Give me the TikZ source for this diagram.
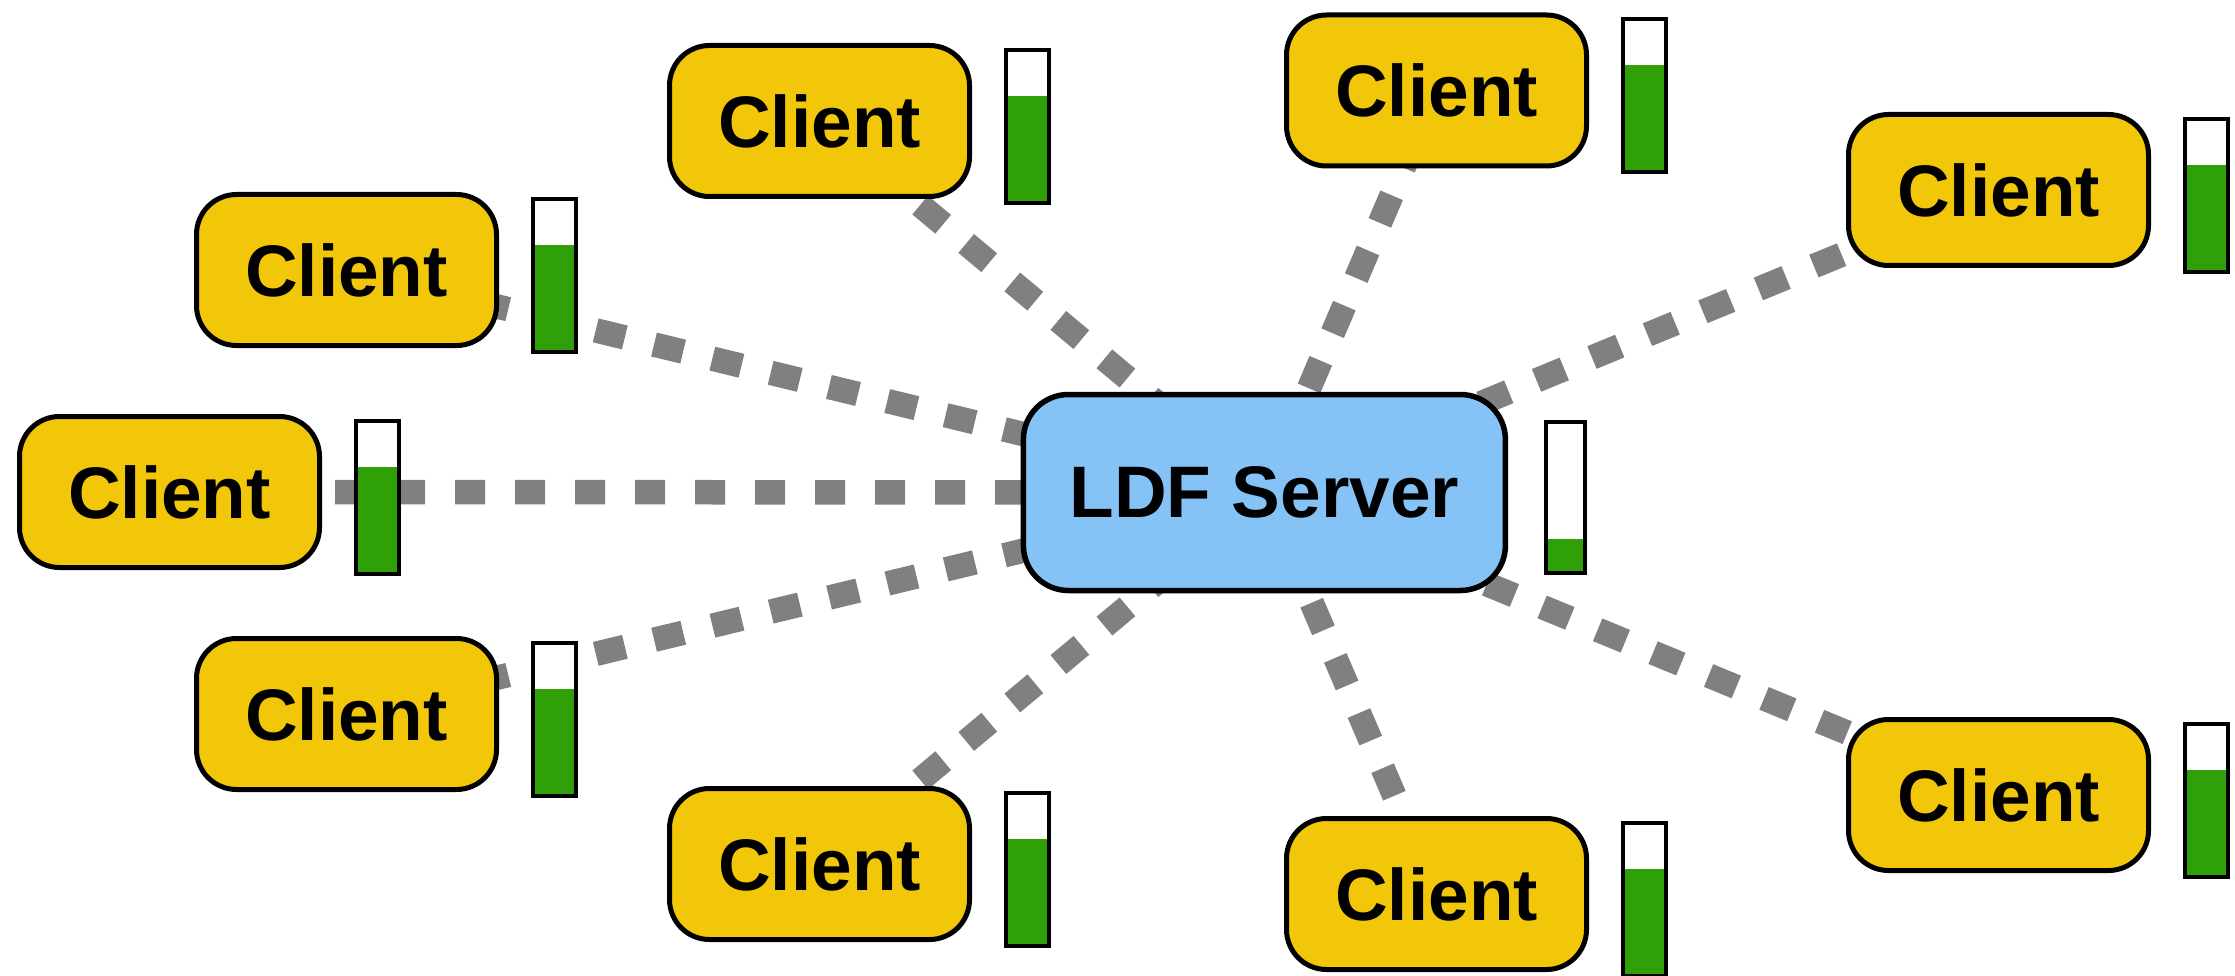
\documentclass[tikz,border=0pt]{standalone}
\usepackage{fontspec}
\setmainfont{Liberation Sans}
\usetikzlibrary{calc}

\pgfdeclarelayer{links}
\pgfsetlayers{links,main}

\definecolor{clientfill}{HTML}{F2C709}
\definecolor{serverfill}{HTML}{85C3F7}
\definecolor{linkgray}{HTML}{808080}
\definecolor{levelgreen}{HTML}{30A008}

\tikzset{
  labelfont/.style={font=\fontsize{73}{80}\selectfont\bfseries},
  client/.style={draw, line width=5pt, fill=clientfill, rounded corners=40pt,
    minimum width=300pt, minimum height=151pt, inner sep=0pt, labelfont},
  server/.style={draw, line width=5.5pt, fill=serverfill, rounded corners=45pt,
    minimum width=482pt, minimum height=196pt, inner sep=0pt, labelfont},
  % vertical gauge, filled green from the bottom up to the given fraction
  gauge/.style={draw, line width=4pt, fill=white, inner sep=0pt,
    minimum width=43pt, minimum height=153pt,
    path picture={\fill[levelgreen] (path picture bounding box.south west) rectangle
      ($(path picture bounding box.south east)!#1!(path picture bounding box.north east)$);}},
  % dashed link: dash phase
  link/.style={draw=linkgray, line width=24.5pt,
    dash pattern=on 30pt off 30pt, dash phase=#1pt},
}

\begin{document}
\begin{tikzpicture}[x=1pt,y=-1pt]
\useasboundingbox (0,0) rectangle (2235,976);

% server
\node[server] (srv) at (1264.4,492.5) {LDF Server};
\node[gauge=0.225, minimum width=39pt, minimum height=151pt] (bs) at (1565,497.5) {};

% clients
\node[client] (c1) at (346.5,270) {Client};
\node[client] (c2) at (819.5,121) {Client};
\node[client] (c3) at (1436.5,90.5) {Client};
\node[client] (c4) at (1998.5,190) {Client};
\node[client] (c5) at (169.5,492) {Client};
\node[client] (c6) at (346.5,714) {Client};
\node[client] (c7) at (819.5,864) {Client};
\node[client] (c8) at (1436.5,894) {Client};
\node[client] (c9) at (1998.5,795) {Client};

% client gauges
\foreach \i in {1,...,9}{
  \node[gauge=0.70] (b\i) at ($(c\i)+(208,5.5)$) {};
}

% links, behind the boxes
\begin{pgfonlayer}{links}
\draw[link=43.6] (c1.center) -- (srv.center);
\draw[link=48.9] (c2.center) -- (srv.center);
\draw[link=6.0]  (c3.center) -- (srv.center);
\draw[link=10.3] (c4.center) -- (srv.center);
\draw[link=14.5] (c5.center) -- (srv.center);
\draw[link=43.6] (c6.center) -- (srv.center);
\draw[link=48.8] (c7.center) -- (srv.center);
\draw[link=13.1] (c8.center) -- (srv.center);
\draw[link=16.4] (c9.center) -- (srv.center);
\end{pgfonlayer}
\end{tikzpicture}
\end{document}
